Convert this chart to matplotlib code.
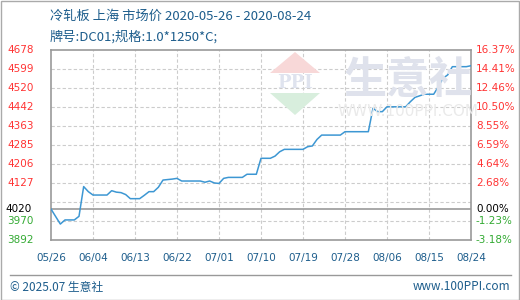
import numpy as np
import matplotlib
matplotlib.use("Agg")
import matplotlib.pyplot as plt
import matplotlib.dates as mdates
from matplotlib.patches import Polygon, Rectangle
import datetime as dt

plt.rcParams['font.family'] = ['Noto Sans CJK SC', 'DejaVu Sans']

start = dt.date(2020, 5, 26)
day_offsets = [0, 2, 3, 5, 6, 7, 8, 9, 12, 13, 14, 15, 16, 17, 19, 20, 21, 22, 23, 24,
               26, 27, 28, 32, 33, 34, 35, 36, 37, 38, 41, 42, 44, 45, 47, 48, 49, 50,
               54, 55, 56, 57, 58, 62, 63, 68, 69, 70, 71, 72, 76, 77, 78, 80, 82, 83,
               84, 85, 86, 89, 90]
prices = [4020, 3958, 3975, 3975, 3990, 4113, 4092, 4078, 4078, 4096, 4090, 4088, 4080,
          4063, 4063, 4077, 4092, 4092, 4110, 4140, 4144, 4147, 4136, 4136, 4131, 4136,
          4128, 4126, 4147, 4151, 4151, 4164, 4164, 4230, 4230, 4239, 4257, 4267, 4267,
          4278, 4281, 4308, 4326, 4326, 4340, 4340, 4437, 4423, 4423, 4443, 4443, 4464,
          4482, 4495, 4495, 4526, 4561, 4575, 4609, 4609, 4613]
dates = [start + dt.timedelta(days=d) for d in day_offsets]

base = 4020
y_ticks = [3892, 3970.6, 4049.2, 4127.8, 4206.4, 4285, 4363.6, 4442.2, 4520.8, 4599.4, 4678]
left_labels = ["3892", "3970", "", "4127", "4206", "4285", "4363", "4442", "4520", "4599", "4678"]
right_labels = ["-3.18%", "-1.23%", "", "2.68%", "4.64%", "6.59%", "8.55%", "10.50%",
                "12.46%", "14.41%", "16.37%"]
x_labels = ["05/26", "06/04", "06/13", "06/22", "07/01", "07/10", "07/19", "07/28",
            "08/06", "08/15", "08/24"]
x_ticks = [start + dt.timedelta(days=9 * i) for i in range(len(x_labels))]

blue_txt = "#1d5d8c"
red = "#ff3333"
green = "#33aa33"

fig = plt.figure(figsize=(5.2, 3.0), dpi=100)
ax = fig.add_axes([51 / 520, 1 - 240 / 300, 420 / 520, 190 / 300])

# watermark
fig.patches.append(Polygon([[270 / 520, 1 - 73 / 300], [320 / 520, 1 - 73 / 300], [295 / 520, 1 - 52 / 300]],
                           closed=True, transform=fig.transFigure, fc="#f8d8d8", ec="none", zorder=0))
fig.patches.append(Polygon([[270 / 520, 1 - 93 / 300], [320 / 520, 1 - 93 / 300], [295 / 520, 1 - 115 / 300]],
                           closed=True, transform=fig.transFigure, fc="#d8eedd", ec="none", zorder=0))
fig.text(295 / 520, 1 - 83 / 300, "PPI", ha="center", va="center", fontsize=13,
         color="#dfe3ee", family="DejaVu Serif", fontweight="bold", zorder=0)
fig.text(408 / 520, 1 - 80 / 300, "生意社", ha="center", va="center", fontsize=31,
         color="#dfe2ec", fontweight="bold", zorder=0)
fig.text(408 / 520, 1 - 112 / 300, "WWW.100PPI.COM", ha="center", va="center", fontsize=11,
         color="#eaeaea", family="DejaVu Sans", zorder=0)
ax.patch.set_alpha(0)

ax.plot(dates, prices, color="#3d97d3", lw=1.1, zorder=3)

ax.set_xlim(start, start + dt.timedelta(days=90))
ax.set_ylim(y_ticks[0], y_ticks[-1])

for y in y_ticks[1:-1]:
    ax.axhline(y, color="#cccccc", lw=0.8, ls=(0, (3, 2)), zorder=1)
for x in x_ticks[1:-1]:
    ax.axvline(x, color="#cccccc", lw=0.8, ls=(0, (3, 2)), zorder=1)
ax.axhline(base, color="#999999", lw=1.2, zorder=2)

for s in ax.spines.values():
    s.set_color("#999999")
    s.set_linewidth(1.2)

ax.set_yticks([])
ax.set_xticks(x_ticks)
ax.set_xticklabels(x_labels, color=blue_txt, fontsize=7.5, family="DejaVu Sans")
ax.tick_params(axis="x", length=0, pad=9)

# left and right labels
for y, lab, rlab in zip(y_ticks, left_labels, right_labels):
    if not lab:
        continue
    c = red if y > base else green
    ax.annotate(lab, (0, y), xycoords=("figure fraction", "data"), xytext=(5, 0),
                textcoords="offset points", va="center", ha="left", color=c,
                fontsize=7.5, family="DejaVu Sans")
    ax.annotate(rlab, (476 / 520, y), xycoords=("figure fraction", "data"),
                va="center", ha="left", color=c, fontsize=7.5, family="DejaVu Sans")
ax.annotate(str(base), (5 / 520, base), xycoords=("figure fraction", "data"),
            va="center", ha="left", color="black", fontsize=7.5, family="DejaVu Sans")
ax.annotate("0.00%", (476 / 520, base), xycoords=("figure fraction", "data"),
            va="center", ha="left", color="black", fontsize=7.5, family="DejaVu Sans")

# titles
fig.text(50 / 520, 1 - 16 / 300, "冷轧板 上海 市场价 2020-05-26 - 2020-08-24",
         color=blue_txt, fontsize=9.5, va="center", ha="left")
fig.text(50 / 520, 1 - 37 / 300, "牌号:DC01;规格:1.0*1250*C;",
         color=blue_txt, fontsize=9.5, va="center", ha="left")

# footer
fig.add_artist(plt.Line2D([10 / 520, 511 / 520], [1 - 275 / 300, 1 - 275 / 300],
                          transform=fig.transFigure, color="#999999", lw=1))
fig.text(10 / 520, 1 - 287 / 300, "© 2025.07 生意社", color=blue_txt, fontsize=8.5,
         va="center", ha="left")
fig.text(510 / 520, 1 - 287 / 300, "www.100PPI.com", color=blue_txt, fontsize=8.5,
         va="center", ha="right")
fig.patches.append(Rectangle((0.5 / 520, 0.5 / 300), 518.5 / 520, 298.5 / 300,
                             transform=fig.transFigure, fill=False, ec="#aaaaaa", lw=1))

fig.savefig("out.png", dpi=100)
